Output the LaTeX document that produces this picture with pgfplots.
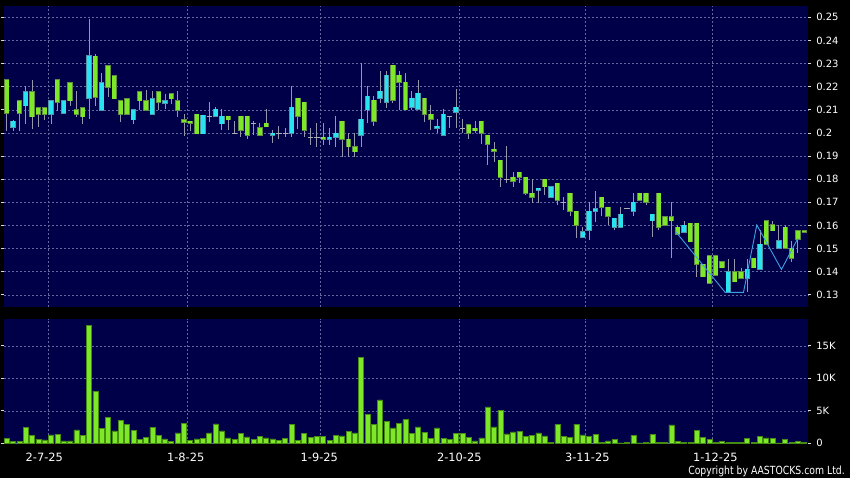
\documentclass[border=0pt]{standalone}
\usepackage{pgfplots}
\pgfplotsset{compat=1.18}
\usepackage{pgfplotstable}
\usepackage{fontspec}
\setmainfont{DejaVu Sans}
\newfontfamily\copyfont[FakeStretch=0.83]{DejaVu Sans}
\definecolor{bgnavy}{RGB}{0,0,72}
\definecolor{upgreen}{RGB}{124,232,40}
\definecolor{greenborder}{RGB}{96,140,70}
\definecolor{upcyan}{RGB}{40,228,240}
\definecolor{cyanborder}{RGB}{80,150,170}
\definecolor{gridc}{RGB}{95,105,160}
\definecolor{wickc}{RGB}{150,150,172}
\definecolor{dojic}{RGB}{170,175,180}
\definecolor{zigc}{RGB}{60,160,230}
\definecolor{volborder}{RGB}{70,140,20}
\newcommand\lblfont{\fontsize{10bp}{12bp}\selectfont}
\newcommand\datefont{\fontsize{11.4bp}{13bp}\selectfont}

% green candles: index, body low, body high, low, high
\pgfplotstableread{
i bl bh lo hi
0 .2087 .2230 .2008 .2230
2 .2087 .2139 .2008 .2139
4 .2070 .2178 .2017 .2230
5 .2080 .2107 .2025 .2107
6 .2080 .2107 .2054 .2107
8 .2132 .2230 .2097 .2230
10 .2139 .2217 .2116 .2217
11 .2080 .2100 .2069 .2181
12 .2070 .2107 .2040 .2107
14 .2155 .2331 .2116 .2340
16 .2198 .2290 .2155 .2290
17 .2148 .2247 .2148 .2247
18 .2080 .2139 .2047 .2139
19 .2080 .2148 .2080 .2148
21 .2139 .2178 .2100 .2178
22 .2100 .2139 .2100 .2187
24 .2132 .2178 .2100 .2181
26 .2148 .2170 .2126 .2170
27 .2100 .2139 .2070 .2181
28 .2048 .2057 .1986 .2080
29 .2041 .2050 .2008 .2050
30 .1997 .2080 .1997 .2080
35 .2058 .2072 .2013 .2072
37 .2013 .2072 .1981 .2072
38 .1990 .2072 .1972 .2072
40 .1990 .2021 .1990 .2042
41 .2027 .2042 .2027 .2102
46 .2072 .2150 .2016 .2150
47 .2011 .2132 .1981 .2132
50 .1972 .1981 .1948 .2042
53 .1972 .2050 .1898 .2050
54 .1941 .1972 .1898 .1998
55 .1919 .1941 .1898 .1998
58 .2050 .2141 .2029 .2160
61 .2141 .2292 .2128 .2292
62 .2219 .2249 .2101 .2269
63 .2101 .2219 .2101 .2260
66 .2081 .2150 .2049 .2150
67 .2059 .2081 .2013 .2121
73 .1998 .2036 .1972 .2036
74 .2010 .2020 .1998 .2050
75 .1998 .2050 .1951 .2050
76 .1951 .1990 .1860 .1990
77 .1921 .1929 .1873 .1961
78 .1808 .1882 .1768 .1882
80 .1791 .1808 .1768 .1830
81 .1808 .1830 .1782 .1830
82 .1739 .1808 .1732 .1808
83 .1722 .1739 .1699 .1800
85 .1768 .1800 .1732 .1800
87 .1710 .1782 .1690 .1782
89 .1661 .1739 .1640 .1739
90 .1601 .1661 .1545 .1661
94 .1678 .1722 .1641 .1722
95 .1641 .1678 .1600 .1678
100 .1710 .1739 .1710 .1739
101 .1700 .1739 .1690 .1739
103 .1592 .1739 .1580 .1739
104 .1602 .1638 .1602 .1638
105 .1621 .1638 .1458 .1700
106 .1563 .1592 .1563 .1602
108 .1530 .1609 .1530 .1609
109 .1432 .1609 .1379 .1609
110 .1379 .1432 .1379 .1432
111 .1350 .1470 .1350 .1470
112 .1386 .1470 .1386 .1470
113 .1418 .1442 .1418 .1442
115 .1357 .1400 .1357 .1455
116 .1371 .1400 .1371 .1418
118 .1418 .1458 .1418 .1458
120 .1519 .1621 .1519 .1621
121 .1578 .1602 .1578 .1621
123 .1501 .1592 .1501 .1601
124 .1458 .1501 .1443 .1533
125 .1540 .1578 .1480 .1578
126 .1571 .1578 .1571 .1578
}\greentab

% cyan candles
\pgfplotstableread{
i bl bh lo hi
1 .2025 .2050 .2008 .2058
3 .2118 .2178 .2037 .2201
7 .2080 .2139 .2040 .2139
9 .2087 .2139 .2080 .2139
13 .2150 .2333 .2059 .2493
15 .2100 .2217 .2100 .2260
20 .2057 .2100 .2040 .2100
23 .2080 .2148 .2080 .2181
25 .2130 .2139 .2105 .2170
31 .1997 .2076 .1997 .2076
33 .2072 .2102 .2072 .2110
34 .2040 .2072 .2013 .2102
42 .1990 .1998 .1958 .2013
45 .1998 .2111 .1981 .2203
51 .1972 .1981 .1948 .2021
52 .1981 .1998 .1941 .2075
56 .1990 .2059 .1941 .2301
57 .2101 .2158 .2042 .2203
59 .2150 .2180 .2128 .2269
60 .2132 .2249 .2106 .2269
64 .2111 .2150 .2101 .2180
65 .2102 .2171 .2102 .2229
68 .2020 .2029 .1998 .2059
69 .1990 .2081 .1990 .2102
71 .2089 .2111 .2020 .2190
84 .1752 .1761 .1699 .1761
86 .1722 .1768 .1722 .1768
91 .1549 .1572 .1549 .1595
92 .1579 .1661 .1537 .1703
93 .1661 .1671 .1617 .1748
96 .1592 .1631 .1580 .1631
97 .1592 .1648 .1592 .1681
99 .1663 .1700 .1641 .1739
102 .1621 .1648 .1549 .1648
107 .1570 .1601 .1570 .1621
114 .1311 .1400 .1311 .1455
117 .1371 .1410 .1311 .1455
119 .1410 .1519 .1410 .1580
122 .1501 .1533 .1501 .1601
}\cyantab

% doji candles: index, open=close, low, high
\pgfplotstableread{
i y lo hi
32 .2072 .2049 .2135
36 .1998 .1998 .2052
39 .2042 .1990 .2052
43 .1998 .1972 .2030
44 .1998 .1981 .2021
48 .1981 .1948 .2021
49 .1981 .1941 .2042
70 .2070 .2020 .2070
72 .2020 .1998 .2059
79 .1800 .1782 .1944
88 .1700 .1667 .1722
98 .1674 .1674 .1674
}\dojitab

% volume (thousands)
\pgfplotstableread{
i v
0 0.77
1 0.30
2 0.30
3 2.47
4 1.23
5 0.62
6 0.51
7 1.29
8 1.39
9 0.36
10 0.36
11 2.06
12 1.18
13 18.2
14 8.02
15 2.31
16 4.01
17 1.90
18 3.55
19 2.88
20 1.95
21 0.62
22 0.93
23 2.47
24 1.18
25 0.67
26 0.26
27 1.59
28 3.08
29 0.41
30 0.67
31 0.72
32 1.59
33 2.98
34 1.90
35 0.82
36 0.57
37 1.49
38 0.98
39 0.62
40 1.03
41 0.82
42 0.67
43 0.41
44 0.77
45 2.88
46 0.46
47 1.49
48 0.87
49 1.08
50 1.08
51 0.46
52 1.18
53 1.13
54 1.85
55 1.59
56 13.16
57 4.42
58 2.88
59 6.68
60 3.39
61 2.37
62 3.03
63 3.65
64 1.54
65 2.52
66 1.70
67 0.72
68 2.37
69 0.77
70 0.62
71 1.49
72 1.49
73 0.93
74 0.36
75 0.82
76 5.60
77 2.52
78 5.09
79 1.44
80 1.75
81 1.85
82 1.03
83 1.18
84 1.59
85 1.13
86 0.15
87 2.88
88 1.03
89 0.87
90 2.93
91 1.29
92 1.03
93 1.34
94 0.20
95 0.36
96 0.62
97 0.05
98 0.10
99 1.23
100 0.05
101 0.10
102 1.39
103 0.15
104 0.15
105 2.83
106 0.30
107 0.20
108 0.20
109 1.95
110 0.87
111 0.57
112 0.20
113 0.30
114 0.15
115 0.15
116 0.10
117 0.72
118 0.20
119 1.08
120 0.82
121 0.72
122 0.05
123 0.57
124 0.15
125 0.26
126 0.10
}\voltab

\pgfplotsset{
  nomarks/.style={only marks, mark=*, mark size=0pt, mark options={draw=none, fill=none}, forget plot},
  wick/.style={nomarks,
    error bars/.cd, y dir=both, y explicit, error mark=none,
    error bar style={line width=0.9bp, color=wickc}},
  bodyout/.style={nomarks,
    error bars/.cd, y dir=both, y explicit, error mark=none,
    error bar style={line width=5.4bp, color=#1}},
  bodyin/.style={nomarks,
    error bars/.cd, y dir=both, y explicit, error mark=none,
    error bar style={line width=3.9bp, color=#1}},
}

\begin{document}
\begin{tikzpicture}
\path[use as bounding box] (0,0) rectangle (850bp,478bp);
\fill[black] (0,0) rectangle (850bp,478bp);

% ---------- price panel ----------
\begin{axis}[
  at={(4bp,171.3bp)}, anchor=south west,
  scale only axis, width=804.3bp, height=301bp,
  xmin=-0.43, xmax=126.64, ymin=0.1249, ymax=0.2550,
  axis background/.style={fill=bgnavy},
  axis line style={draw=none},
  xtick={6.57,28.53,49.6,71.56,91.47,111.53},
  xticklabels={}, xtick style={draw=none},
  ytick={0.13,0.14,0.15,0.16,0.17,0.18,0.19,0.20,0.21,0.22,0.23,0.24,0.25},
  yticklabels={0.13,0.14,0.15,0.16,0.17,0.18,0.19,0.2,0.21,0.22,0.23,0.24,0.25},
  yticklabel pos=right,
  tick align=outside, major tick length=3bp,
  ytick style={draw=white!85!black, line width=0.8bp},
  yticklabel style={font=\lblfont, text=white, xshift=1.5bp},
  grid=major,
  major grid style={gridc, dash pattern=on 2bp off 2bp, line width=0.6bp},
]
\addplot[wick] table[x=i, y expr=(\thisrow{lo}+\thisrow{hi})/2, y error expr=(\thisrow{hi}-\thisrow{lo})/2]{\greentab};
\addplot[wick] table[x=i, y expr=(\thisrow{lo}+\thisrow{hi})/2, y error expr=(\thisrow{hi}-\thisrow{lo})/2]{\cyantab};
\addplot[wick] table[x=i, y expr=(\thisrow{lo}+\thisrow{hi})/2, y error expr=(\thisrow{hi}-\thisrow{lo})/2]{\dojitab};
\addplot[bodyout=greenborder] table[x=i, y expr=(\thisrow{bl}+\thisrow{bh})/2, y error expr=(\thisrow{bh}-\thisrow{bl})/2+0.0003]{\greentab};
\addplot[bodyin=upgreen] table[x=i, y expr=(\thisrow{bl}+\thisrow{bh})/2, y error expr=(\thisrow{bh}-\thisrow{bl})/2]{\greentab};
\addplot[bodyout=cyanborder] table[x=i, y expr=(\thisrow{bl}+\thisrow{bh})/2, y error expr=(\thisrow{bh}-\thisrow{bl})/2+0.0003]{\cyantab};
\addplot[bodyin=upcyan] table[x=i, y expr=(\thisrow{bl}+\thisrow{bh})/2, y error expr=(\thisrow{bh}-\thisrow{bl})/2]{\cyantab};
\addplot[only marks, mark=-, mark size=2.7bp, mark options={draw=dojic, line width=1.1bp}, forget plot] table[x=i, y=y]{\dojitab};
\addplot[zigc, line width=0.9bp, mark=none] coordinates {
  (105.7,0.1573) (113.5,0.1311) (116.4,0.1311) (118.5,0.1602) (122.4,0.1410) (125.0,0.1545)
};
\end{axis}

% ---------- volume panel ----------
\begin{axis}[
  at={(4bp,34.7bp)}, anchor=south west,
  scale only axis, width=804.3bp, height=124.3bp,
  xmin=-0.43, xmax=126.64, ymin=0, ymax=19.13,
  axis background/.style={fill=bgnavy},
  axis line style={draw=none},
  xtick={6.57,28.53,49.6,71.56,91.47,111.53},
  xticklabels={}, xtick style={draw=none},
  extra x ticks={5.94,28.28,49.38,71.5,91.72,111.94},
  extra x tick labels={2-7-25,1-8-25,1-9-25,2-10-25,3-11-25,1-12-25},
  extra x tick style={grid=none, tick style={draw=white!85!black, line width=0.8bp}, xticklabel style={font=\datefont, text=white, yshift=-3bp}},
  ytick={0,5,10,15},
  yticklabels={0,5K,10K,15K},
  yticklabel pos=right,
  tick align=outside, major tick length=3bp,
  ytick style={draw=white!85!black, line width=0.8bp},
  yticklabel style={font=\lblfont, text=white, xshift=1.5bp},
  ymajorgrids, xmajorgrids,
  major grid style={gridc, dash pattern=on 2bp off 2bp, line width=0.6bp},
]
\addplot[ybar, bar width=5bp, fill=upgreen, draw=volborder, line width=0.6bp] table[x=i, y=v]{\voltab};
\end{axis}

\node[anchor=base east, text=white, inner sep=0pt, font=\copyfont\fontsize{11.2bp}{13bp}\selectfont] at (845bp,3.6bp) {Copyright by AASTOCKS.com Ltd.};
\end{tikzpicture}
\end{document}
